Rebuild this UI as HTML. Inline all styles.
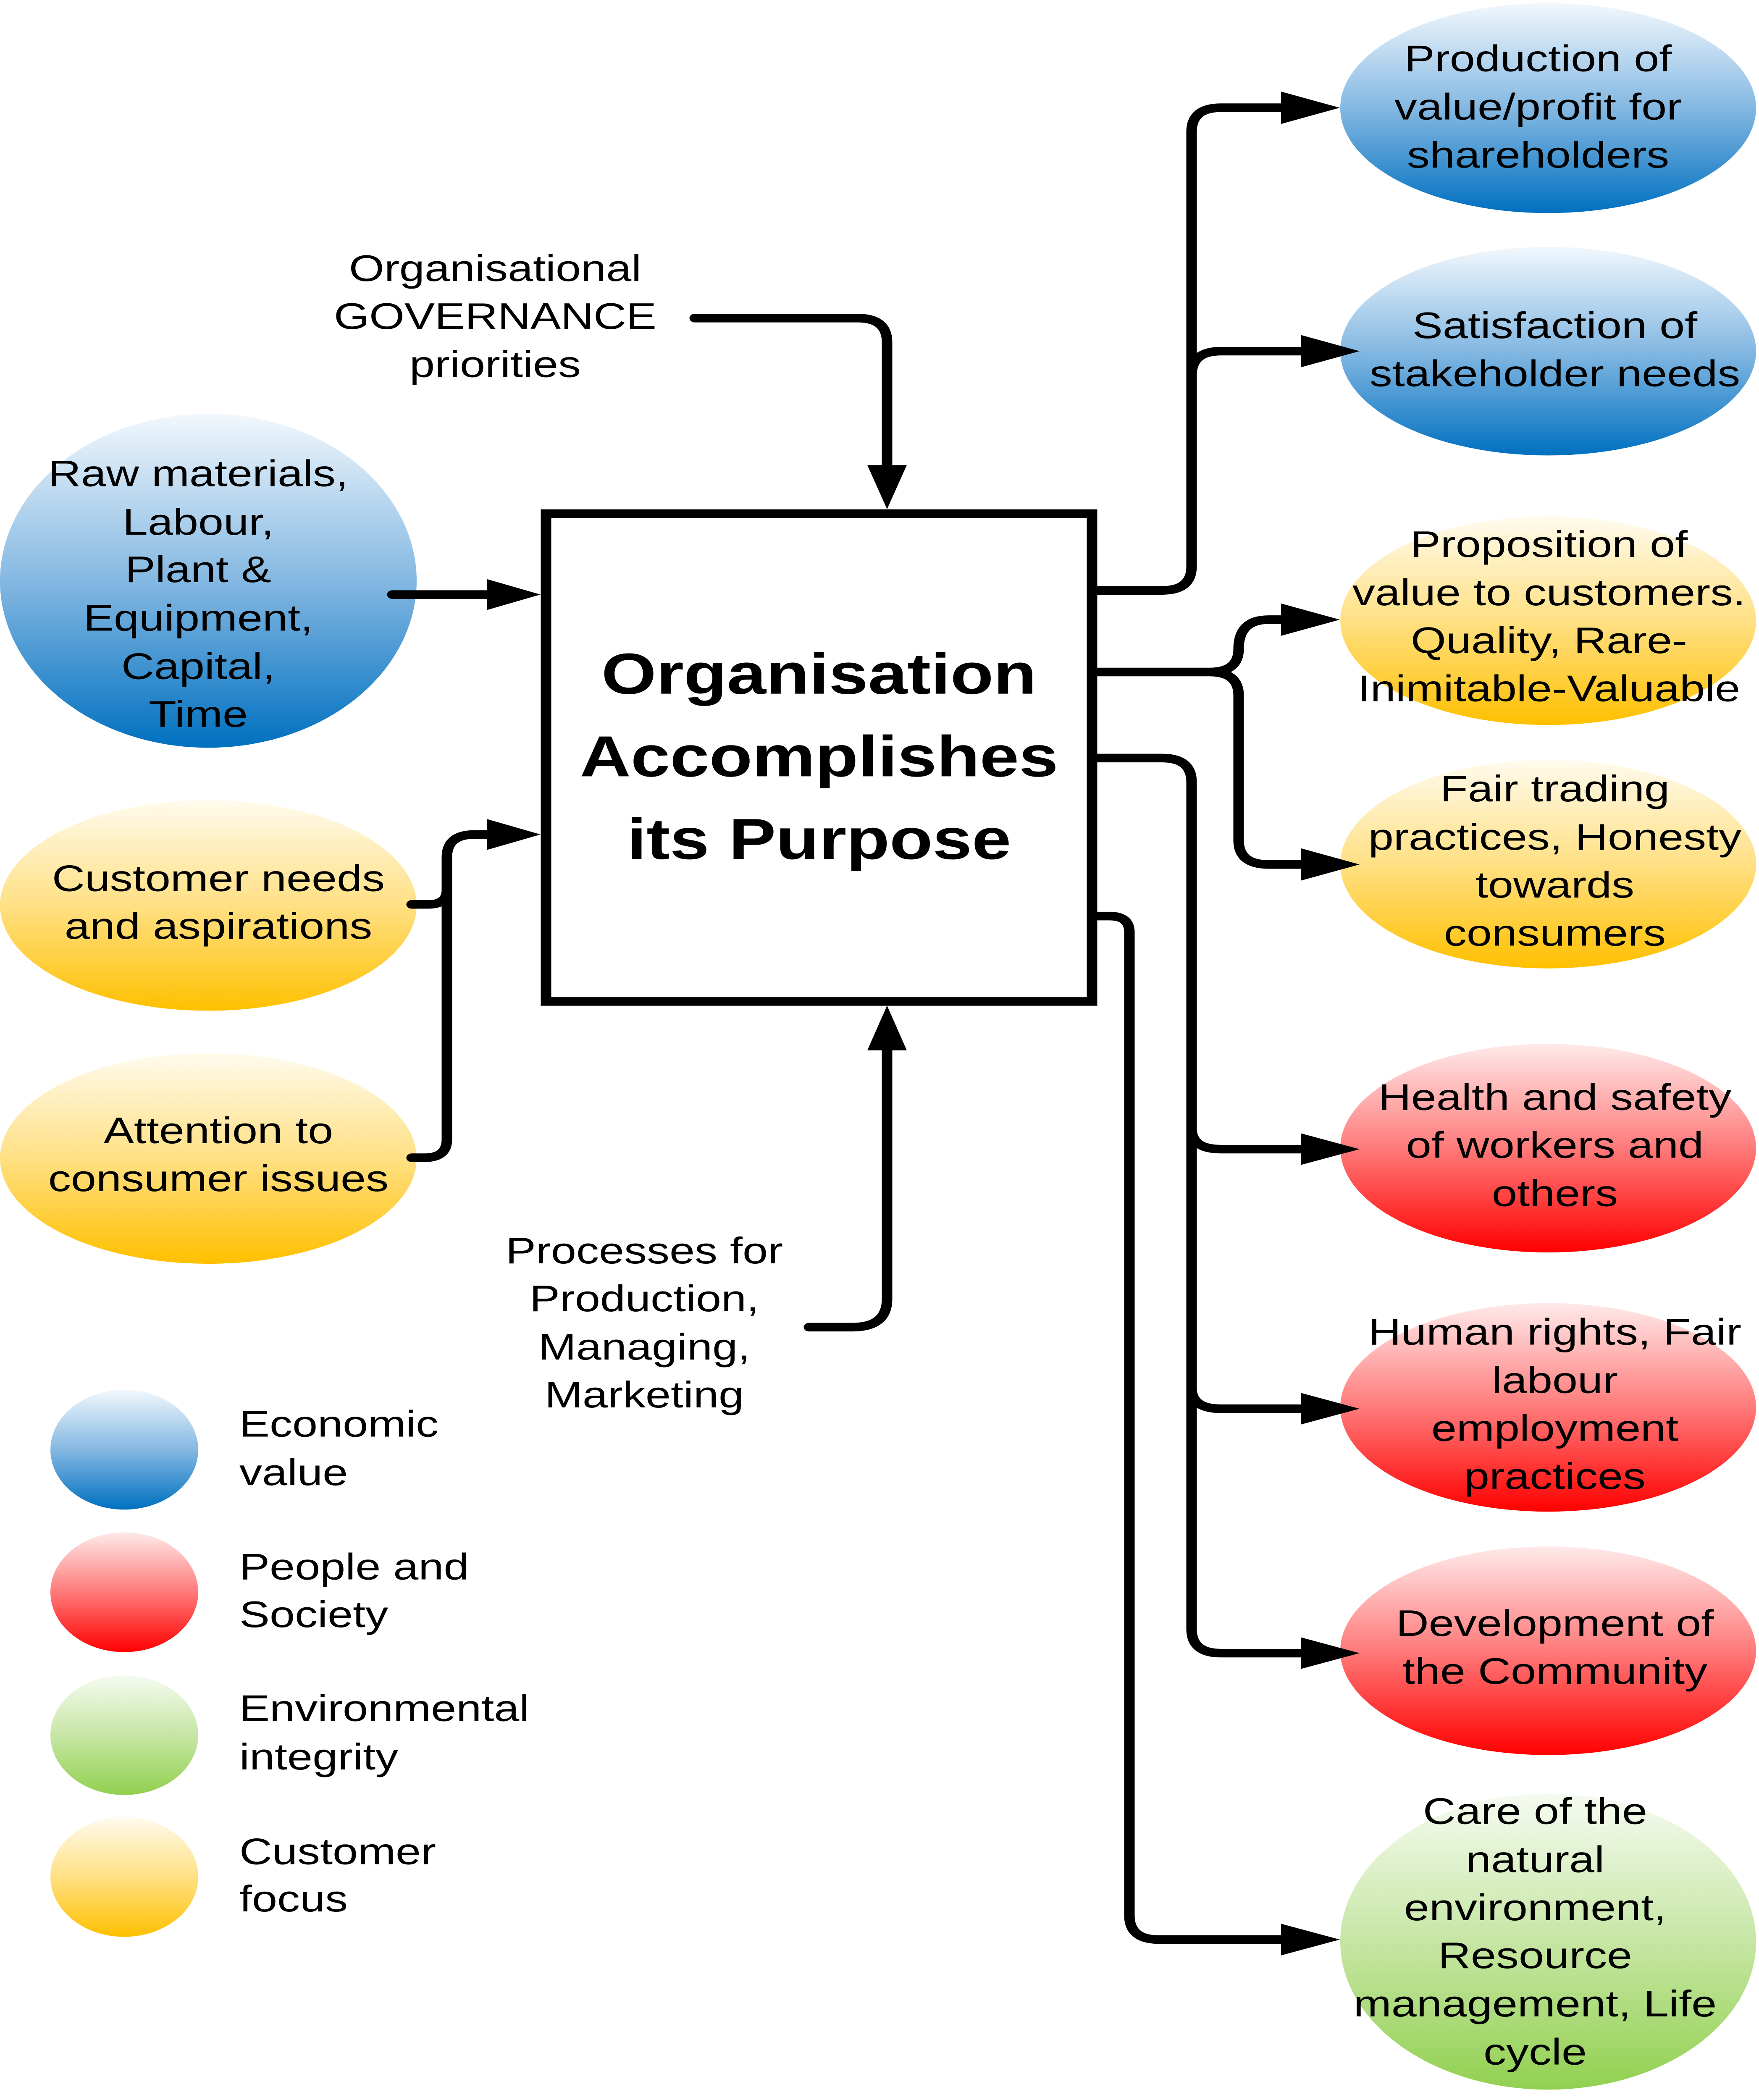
<!DOCTYPE html>
<html>
<head>
<meta charset="utf-8">
<style>
html,body{margin:0;padding:0;background:#fff;width:100%;height:100%;overflow:hidden;}
svg{display:block;position:absolute;left:0;top:0;width:100vw;height:100vh;}
text{font-family:"Liberation Sans",Arial,sans-serif;fill:#000;}
</style>
</head>
<body>
<svg viewBox="0 0 4188 6100" preserveAspectRatio="none" xmlns="http://www.w3.org/2000/svg">
<defs>
<linearGradient id="gB" x1="0" y1="0" x2="0" y2="1">
<stop offset="0" stop-color="#f2f8fd"/>
<stop offset="0.5" stop-color="#84b8e2"/>
<stop offset="1" stop-color="#0070c0"/>
</linearGradient>
<linearGradient id="gY" x1="0" y1="0" x2="0" y2="1">
<stop offset="0" stop-color="#fffbee"/>
<stop offset="0.5" stop-color="#ffe084"/>
<stop offset="1" stop-color="#ffc000"/>
</linearGradient>
<linearGradient id="gR" x1="0" y1="0" x2="0" y2="1">
<stop offset="0" stop-color="#ffeaea"/>
<stop offset="0.5" stop-color="#ff7a7a"/>
<stop offset="1" stop-color="#ff0000"/>
</linearGradient>
<linearGradient id="gG" x1="0" y1="0" x2="0" y2="1">
<stop offset="0" stop-color="#f6fbf1"/>
<stop offset="0.5" stop-color="#c6e6a4"/>
<stop offset="1" stop-color="#92d050"/>
</linearGradient>
</defs>

<rect x="0" y="0" width="4188" height="6100" fill="#fff"/>

<!-- Right ellipses -->
<ellipse cx="3686" cy="314" rx="495" ry="305" fill="url(#gB)"/>
<ellipse cx="3686" cy="1020" rx="495" ry="303" fill="url(#gB)"/>
<ellipse cx="3686" cy="1803" rx="495" ry="303" fill="url(#gY)"/>
<ellipse cx="3686" cy="2510" rx="495" ry="303" fill="url(#gY)"/>
<ellipse cx="3686" cy="3335" rx="495" ry="303" fill="url(#gR)"/>
<ellipse cx="3686" cy="4088" rx="495" ry="303" fill="url(#gR)"/>
<ellipse cx="3686" cy="4795" rx="495" ry="303" fill="url(#gR)"/>
<ellipse cx="3686" cy="5640" rx="495" ry="430" fill="url(#gG)"/>

<!-- Left ellipses -->
<ellipse cx="496" cy="1687" rx="496" ry="485" fill="url(#gB)"/>
<ellipse cx="496" cy="2630" rx="496" ry="306" fill="url(#gY)"/>
<ellipse cx="496" cy="3365" rx="496" ry="306" fill="url(#gY)"/>

<!-- Legend circles -->
<ellipse cx="296" cy="4211" rx="176" ry="174" fill="url(#gB)"/>
<ellipse cx="296" cy="4625" rx="176" ry="174" fill="url(#gR)"/>
<ellipse cx="296" cy="5040" rx="176" ry="174" fill="url(#gG)"/>
<ellipse cx="296" cy="5452" rx="176" ry="174" fill="url(#gY)"/>

<!-- Main box -->
<rect x="1300" y="1492" width="1300" height="1417" fill="#fff" stroke="#000" stroke-width="25"/>

<!-- Connectors -->
<g fill="none" stroke="#000" stroke-width="25" stroke-linecap="round" stroke-linejoin="round">
  <path d="M1654 924 H2042 Q2112 924 2112 994 V1360"/>
  <path d="M1926 3855 H2030 Q2112 3855 2112 3773 V3040"/>
  <path d="M934 1727 H1170"/>
  <path d="M980 3363 H1010 Q1064 3363 1064 3310 V2490 Q1064 2424 1130 2424 H1170"/>
  <path d="M980 2627 H1020 Q1064 2627 1064 2585"/>
</g>
<g fill="none" stroke="#000" stroke-width="25" stroke-linecap="butt" stroke-linejoin="round">
  <path d="M2600 1715 H2767 Q2837 1715 2837 1645 V383 Q2837 313 2907 313 H3060"/>
  <path d="M2837 1090 Q2837 1020 2907 1020 H3107"/>
  <path d="M2600 1952 H2880 Q2949 1952 2949 1885 Q2949 1800 3020 1800 H3060"/>
  <path d="M2880 1952 Q2949 1952 2949 2020 V2441 Q2949 2511 3020 2511 H3107"/>
  <path d="M2600 2202 H2767 Q2837 2202 2837 2272 V4732 Q2837 4802 2907 4802 H3107"/>
  <path d="M2837 3278 Q2837 3338 2907 3338 H3107"/>
  <path d="M2837 4032 Q2837 4092 2907 4092 H3107"/>
  <path d="M2600 2661 H2642 Q2689 2661 2689 2708 V5564 Q2689 5634 2759 5634 H3060"/>
</g>

<!-- Arrowheads -->
<g fill="#000">
  <polygon points="2065,1351 2159,1351 2112,1479"/>
  <polygon points="2065,3051 2159,3051 2112,2921"/>
  <polygon points="1159,1682 1159,1772 1287,1727"/>
  <polygon points="1159,2379 1159,2469 1287,2424"/>
  <polygon points="3050,266 3050,360 3190,313"/>
  <polygon points="3097,973 3097,1067 3237,1020"/>
  <polygon points="3050,1753 3050,1847 3190,1800"/>
  <polygon points="3097,2464 3097,2558 3237,2511"/>
  <polygon points="3097,3292 3097,3384 3237,3338"/>
  <polygon points="3097,4046 3097,4138 3237,4092"/>
  <polygon points="3097,4756 3097,4848 3237,4802"/>
  <polygon points="3050,5588 3050,5680 3190,5634"/>
</g>

<!-- Title -->
<g font-weight="bold" font-size="168" text-anchor="middle">
  <text x="1950" y="2015">Organisation</text>
  <text x="1950" y="2255">Accomplishes</text>
  <text x="1950" y="2495">its Purpose</text>
</g>

<g font-size="108" text-anchor="middle">
  <text x="1179" y="816">Organisational</text>
  <text x="1179" y="955">GOVERNANCE</text>
  <text x="1179" y="1095">priorities</text>

  <text x="1534" y="3670">Processes for</text>
  <text x="1534" y="3809">Production,</text>
  <text x="1534" y="3949">Managing,</text>
  <text x="1534" y="4088">Marketing</text>

  <text x="472" y="1412">Raw materials,</text>
  <text x="472" y="1553">Labour,</text>
  <text x="472" y="1691">Plant &amp;</text>
  <text x="472" y="1832">Equipment,</text>
  <text x="472" y="1972">Capital,</text>
  <text x="472" y="2111">Time</text>

  <text x="520" y="2588">Customer needs</text>
  <text x="520" y="2727">and aspirations</text>
  <text x="520" y="3321">Attention to</text>
  <text x="520" y="3460">consumer issues</text>

  <text x="3662" y="207">Production of</text>
  <text x="3662" y="347">value/profit for</text>
  <text x="3662" y="487">shareholders</text>

  <text x="3702" y="982">Satisfaction of</text>
  <text x="3702" y="1122">stakeholder needs</text>

  <text x="3688" y="1618">Proposition of</text>
  <text x="3688" y="1758">value to customers.</text>
  <text x="3688" y="1897">Quality, Rare-</text>
  <text x="3688" y="2037">Inimitable-Valuable</text>

  <text x="3702" y="2328">Fair trading</text>
  <text x="3702" y="2468">practices, Honesty</text>
  <text x="3702" y="2607">towards</text>
  <text x="3702" y="2747">consumers</text>

  <text x="3702" y="3224">Health and safety</text>
  <text x="3702" y="3363">of workers and</text>
  <text x="3702" y="3503">others</text>

  <text x="3702" y="3906">Human rights, Fair</text>
  <text x="3702" y="4046">labour</text>
  <text x="3702" y="4185">employment</text>
  <text x="3702" y="4325">practices</text>

  <text x="3702" y="4752">Development of</text>
  <text x="3702" y="4891">the Community</text>

  <text x="3655" y="5298">Care of the</text>
  <text x="3655" y="5438">natural</text>
  <text x="3655" y="5578">environment,</text>
  <text x="3655" y="5717">Resource</text>
  <text x="3655" y="5857">management, Life</text>
  <text x="3655" y="5997">cycle</text>
</g>

<!-- Legend text -->
<g font-size="108" text-anchor="start">
  <text x="570" y="4173">Economic</text>
  <text x="570" y="4314">value</text>
  <text x="570" y="4588">People and</text>
  <text x="570" y="4726">Society</text>
  <text x="570" y="4999">Environmental</text>
  <text x="570" y="5140">integrity</text>
  <text x="570" y="5415">Customer</text>
  <text x="570" y="5552">focus</text>
</g>
</svg>
</body>
</html>
